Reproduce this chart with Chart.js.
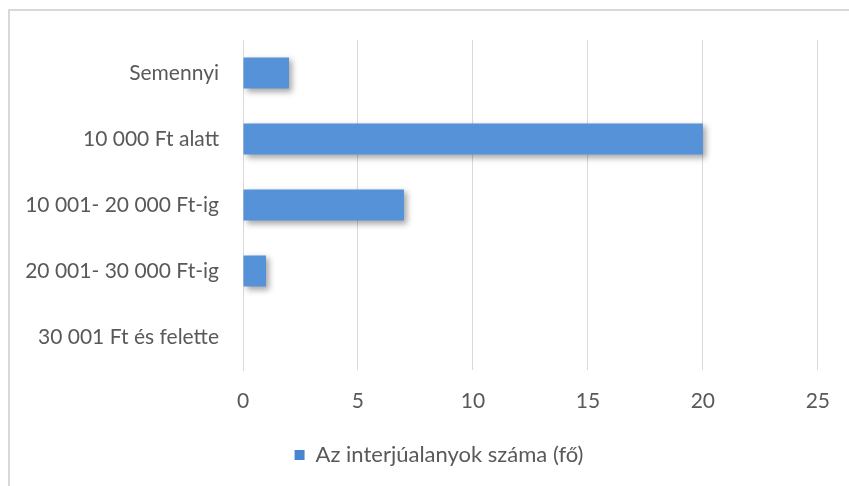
<!DOCTYPE html>
<html>
<head>
<meta charset="utf-8">
<script src="https://cdn.jsdelivr.net/npm/chart.js@4/dist/chart.umd.min.js"></script>
<style>
html,body{margin:0;padding:0;background:#fff;}
#wrap{position:relative;width:849px;height:486px;overflow:hidden;}
#frame{position:absolute;left:8px;top:9px;width:900px;height:600px;border-left:2px solid #d9d9d9;border-top:2px solid #d9d9d9;box-sizing:border-box;pointer-events:none;}
canvas{position:absolute;left:0;top:0;}
</style>
</head>
<body>
<div id="wrap">
<canvas id="c" width="849" height="486"></canvas>
<div id="frame"></div>
</div>
<script>
const categories = ["Semennyi", "10 000 Ft alatt", "10 001- 20 000 Ft-ig", "20 001- 30 000 Ft-ig", "30 001 Ft és felette"];
const seriesName = "Az interjúalanyok száma (fő)";
const values = [2, 20, 7, 1, 0];
const xTicks = [0, 5, 10, 15, 20, 25];

const FONT = "Lato, 'Open Sans', sans-serif";
const TEXT = "#595959";
const GRID = "#d9d9d9";

const shadowPlugin = {
  id: 'barShadow',
  beforeDatasetDraw(chart) {
    const ctx = chart.ctx;
    ctx.save();
    ctx.shadowColor = 'rgba(0,0,0,0.35)';
    ctx.shadowBlur = 6;
    ctx.shadowOffsetX = 3;
    ctx.shadowOffsetY = 3;
  },
  afterDatasetDraw(chart) {
    chart.ctx.restore();
  }
};

const legendShift = {
  id: 'legendShift',
  afterLayout(chart) {
    if (chart.legend) {
      chart.legend.left += 29;
      chart.legend.right += 29;
    }
  }
};

function barFill(context) {
  const el = context.element;
  const ctx = context.chart.ctx;
  if (!el || el.height === undefined || !isFinite(el.y)) return '#5592d8';
  const top = el.y - el.height / 2, bottom = el.y + el.height / 2;
  const g = ctx.createLinearGradient(0, top, 0, bottom);
  g.addColorStop(0, '#6aa4e0');
  g.addColorStop(1, '#4685cf');
  return g;
}

new Chart(document.getElementById('c'), {
  type: 'bar',
  data: {
    labels: categories,
    datasets: [{
      label: seriesName,
      data: values,
      backgroundColor: barFill,
      borderWidth: 0,
      categoryPercentage: 1,
      barPercentage: 0.47
    }]
  },
  options: {
    indexAxis: 'y',
    responsive: false,
    animation: false,
    layout: { padding: { top: 40, right: 29, bottom: 10, left: 0 } },
    scales: {
      x: {
        min: 0, max: 25,
        afterBuildTicks(scale) { scale.ticks = xTicks.map(v => ({ value: v })); },
        grid: { color: GRID, lineWidth: 1, drawTicks: false },
        border: { display: false },
        ticks: { color: TEXT, font: { family: FONT, size: 21 }, padding: 19 },
        afterFit(scale) { scale.height = 64; }
      },
      y: {
        grid: { display: false, drawTicks: false },
        border: { display: true, color: GRID, width: 1 },
        ticks: { color: TEXT, font: { family: FONT, size: 21 }, padding: 24 },
        afterFit(scale) { scale.width = 243; }
      }
    },
    plugins: {
      legend: {
        position: 'bottom',
        labels: {
          color: TEXT,
          font: { family: FONT, size: 22 },
          boxWidth: 10, boxHeight: 10,
          padding: 10
        }
      },
      tooltip: { enabled: false }
    }
  },
  plugins: [shadowPlugin, legendShift]
});
</script>
</body>
</html>
